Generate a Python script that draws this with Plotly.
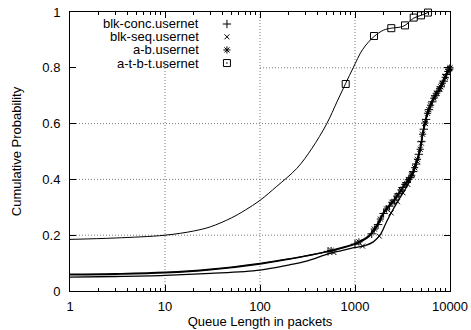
import plotly.graph_objects as go

# ---- data ----
x_tickvals = [1, 10, 100, 1000, 10000]
x_ticktext = ["1", "10", "100", "1000", "10000"]
y_tickvals = [0, 0.2, 0.4, 0.6, 0.8, 1]
y_ticktext = ["0", "0.2", "0.4", "0.6", "0.8", "1"]

series_names = ["blk-conc.usernet", "blk-seq.usernet", "a-b.usernet", "a-t-b-t.usernet"]

# smooth curves
conc_line_x = [1, 3, 10, 30, 100, 200, 300, 500, 700, 1000, 1200, 1400, 1560, 1800, 1990, 2250,
               2510, 2850, 3220, 3600, 3960, 4400, 4830, 5250, 5930, 6990, 8140, 9220, 10000]
conc_line_y = [0.06, 0.062, 0.067, 0.078, 0.099, 0.115, 0.126, 0.14, 0.152, 0.168, 0.18, 0.195,
               0.212, 0.245, 0.277, 0.30, 0.319, 0.345, 0.372, 0.395, 0.414, 0.455, 0.504, 0.575,
               0.646, 0.70, 0.736, 0.777, 0.80]

ab_line_x = [1, 3, 10, 30, 100, 200, 300, 500, 700, 1000, 1200, 1400, 1560, 1800, 1990, 2250,
             2510, 2850, 3220, 3600, 3960, 4400, 4830, 5250, 5930, 6990, 8140, 9220, 10000]
ab_line_y = [0.058, 0.060, 0.065, 0.076, 0.097, 0.114, 0.125, 0.141, 0.154, 0.170, 0.183, 0.199,
             0.218, 0.252, 0.282, 0.304, 0.322, 0.347, 0.374, 0.397, 0.416, 0.458, 0.508, 0.578,
             0.648, 0.701, 0.738, 0.779, 0.80]

seq_line_x = [1, 3, 10, 30, 100, 200, 300, 545, 800, 1000, 1275, 1560, 1830, 2150, 2430, 2860,
              3480, 3960, 4400, 4830, 5250, 5930, 6990, 8140, 9220, 10000]
seq_line_y = [0.05, 0.052, 0.056, 0.063, 0.075, 0.093, 0.106, 0.135, 0.148, 0.156, 0.163, 0.176,
              0.20, 0.248, 0.283, 0.325, 0.372, 0.414, 0.455, 0.504, 0.575, 0.646, 0.70, 0.736,
              0.777, 0.80]

atbt_line_x = [1, 3, 10, 20, 30, 50, 70, 100, 150, 245, 350, 505, 650, 800, 957, 1200,
               1585, 2000, 2410, 3000, 3360, 4150, 4955, 5860]
atbt_line_y = [0.185, 0.19, 0.20, 0.215, 0.23, 0.262, 0.29, 0.325, 0.375, 0.44, 0.51, 0.60,
               0.68, 0.745, 0.80, 0.865, 0.912, 0.935, 0.942, 0.946, 0.952, 0.978, 0.988, 0.998]

# point markers
conc_pts_x = [520, 1000, 1500, 1750, 2000, 2300, 2600, 2900, 3200, 3500, 3800, 4100, 4400, 4700,
              5000, 5300, 5600, 6000, 6500, 7000, 7500, 8000, 8600, 9200, 9800]
conc_pts_y = [0.142, 0.168, 0.205, 0.238, 0.278, 0.304, 0.326, 0.349, 0.371, 0.389, 0.406, 0.428,
              0.455, 0.49, 0.535, 0.58, 0.615, 0.65, 0.678, 0.70, 0.716, 0.732, 0.752, 0.776, 0.795]

ab_pts_x = [560, 1100, 1600, 1850, 2150, 2450, 2750, 3050, 3350, 3650, 3950, 4250, 4550, 4850,
            5150, 5450, 5800, 6250, 6750, 7250, 7750, 8300, 8900, 9500, 10000]
ab_pts_y = [0.145, 0.176, 0.222, 0.258, 0.294, 0.318, 0.34, 0.362, 0.382, 0.399, 0.415, 0.442,
            0.472, 0.508, 0.562, 0.602, 0.637, 0.666, 0.691, 0.709, 0.725, 0.745, 0.766, 0.787, 0.80]

seq_pts_x = [600, 1200, 1800, 2400, 2800, 3200, 3600, 4000, 4500, 5000, 5500, 6000, 7000, 8000,
             9000, 9900]
seq_pts_y = [0.138, 0.161, 0.197, 0.28, 0.32, 0.352, 0.382, 0.418, 0.465, 0.53, 0.60, 0.65, 0.70,
             0.732, 0.77, 0.797]

atbt_pts_x = [798, 1585, 2410, 3360, 4150, 4955, 5860]
atbt_pts_y = [0.742, 0.914, 0.942, 0.952, 0.98, 0.988, 0.998]

FONT = "Liberation Sans, Arial, Helvetica, sans-serif"

fig = go.Figure()

# lines
for lx, ly, w in [(seq_line_x, seq_line_y, 1.3), (ab_line_x, ab_line_y, 1.4),
                  (conc_line_x, conc_line_y, 1.4), (atbt_line_x, atbt_line_y, 1.0)]:
    fig.add_trace(go.Scatter(x=lx, y=ly, mode="lines",
                             line=dict(color="black", width=w, shape="spline", smoothing=1.0),
                             showlegend=False, hoverinfo="skip"))

# markers
marker_specs = [
    (conc_pts_x, conc_pts_y, "cross-thin-open", 6),
    (seq_pts_x, seq_pts_y, "x-thin-open", 5),
    (ab_pts_x, ab_pts_y, "asterisk-open", 6),
    (atbt_pts_x, atbt_pts_y, "square-open", 7),
]
for (px, py, sym, sz), name in zip(marker_specs, series_names):
    fig.add_trace(go.Scatter(x=px, y=py, mode="markers", name=name,
                             marker=dict(symbol=sym, size=sz, color="black",
                                         line=dict(color="black", width=1)),
                             cliponaxis=False, showlegend=False))

# gnuplot-style key: text right-aligned, symbol to the right
key_y = [0.957, 0.911, 0.864, 0.817]
key_symbols = ["cross-thin-open", "x-thin-open", "asterisk-open", "square-open-dot"]
key_sizes = [6, 5, 6, 7]
for name, ky, sym, sz in zip(series_names, key_y, key_symbols, key_sizes):
    fig.add_annotation(x=0.343, y=ky, xref="paper", yref="paper", text=name,
                       showarrow=False, xanchor="right", yanchor="middle", borderpad=0,
                       font=dict(family=FONT, size=13, color="black"))
    fig.add_trace(go.Scatter(x=[0.413], y=[ky], xaxis="x2", yaxis="y2", mode="markers",
                             marker=dict(symbol=sym, size=sz, color="black",
                                         line=dict(color="black", width=1)),
                             showlegend=False, hoverinfo="skip"))

# dotted grid (left part under the key is left blank, as in the reference)
grid_line = dict(color="#7a7a7a", width=1, dash="1px,2px")
fig.add_shape(type="line", xref="x", yref="y", x0=10, x1=10, y0=0, y1=0.817,
              line=grid_line, layer="below")
for gx in [100, 1000]:
    fig.add_shape(type="line", xref="x", yref="y", x0=gx, x1=gx, y0=0, y1=1,
                  line=grid_line, layer="below")
for gy in [0.2, 0.4, 0.6]:
    fig.add_shape(type="line", xref="x", yref="y", x0=1, x1=10000, y0=gy, y1=gy,
                  line=grid_line, layer="below")
fig.add_shape(type="line", xref="x", yref="y", x0=100, x1=10000, y0=0.8, y1=0.8,
              line=grid_line, layer="below")

axis_common = dict(
    showline=True, linecolor="black", linewidth=1, mirror="allticks",
    ticks="inside", ticklen=6, tickcolor="black", tickwidth=1,
    showgrid=False, zeroline=False, automargin=False,
    tickfont=dict(family=FONT, size=13, color="black"),
)

fig.update_layout(
    width=471, height=330,
    margin=dict(l=70, r=21, t=12, b=39),
    paper_bgcolor="white", plot_bgcolor="white",
    font=dict(family=FONT, size=13, color="black"),
    showlegend=False,
    xaxis=dict(type="log", range=[0, 4], tickvals=x_tickvals, ticktext=x_ticktext,
               ticklabelstandoff=3,
               minor=dict(ticks="inside", ticklen=3, tickcolor="black", dtick="D1", showgrid=False),
               title=dict(text="Queue Length in packets", font=dict(family=FONT, size=13),
                          standoff=4),
               **axis_common),
    yaxis=dict(range=[0, 1], tickvals=y_tickvals, ticktext=y_ticktext,
               ticklabelstandoff=6,
               title=dict(text="Cumulative Probability", font=dict(family=FONT, size=13),
                          standoff=17),
               **axis_common),
    xaxis2=dict(overlaying="x", range=[0, 1], visible=False),
    yaxis2=dict(overlaying="y", range=[0, 1], visible=False),
)

fig.write_html("out.html")
